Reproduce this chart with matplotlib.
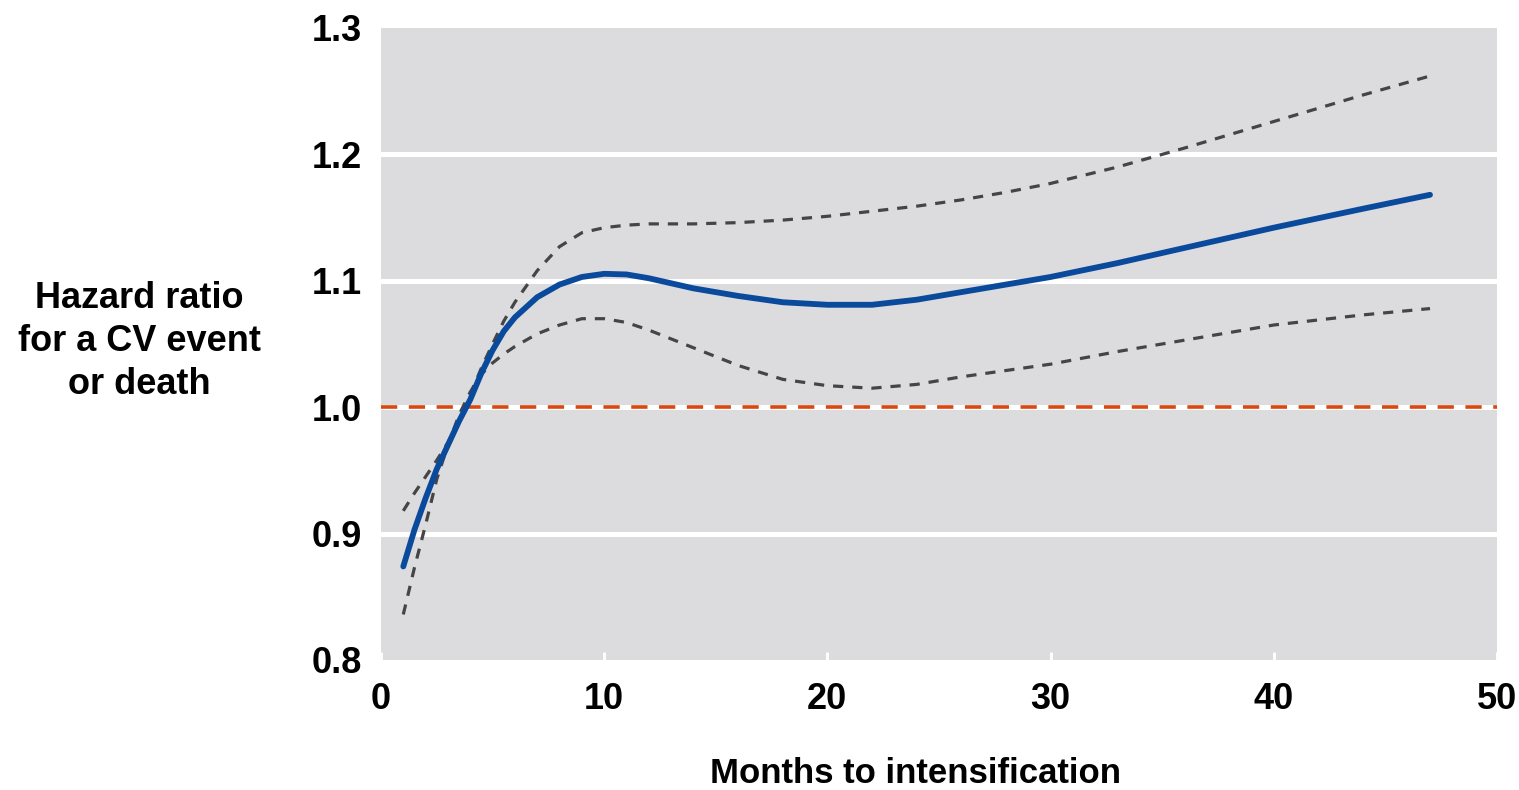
import matplotlib.pyplot as plt

# spline estimate of hazard ratio vs months to intensification
months = [1, 1.5, 2, 2.5, 3, 3.5, 4, 4.5, 5, 5.5, 6, 7, 8, 9, 10, 11, 12, 13, 14,
          16, 18, 20, 22, 24, 26, 28, 30, 33, 36, 40, 44, 47]
hr = [0.874, 0.903, 0.928, 0.951, 0.970, 0.989, 1.006, 1.027, 1.045, 1.060, 1.071,
      1.087, 1.097, 1.103, 1.1055, 1.105, 1.102, 1.098, 1.094, 1.088, 1.083, 1.081,
      1.081, 1.085, 1.091, 1.097, 1.103, 1.114, 1.126, 1.142, 1.157, 1.168]

ci_months = [1, 1.5, 2, 2.5, 3, 3.5, 4, 4.5, 5, 5.5, 6, 7, 8, 9, 10, 11, 12, 13, 14,
             16, 18, 20, 22, 24, 26, 28, 30, 33, 36, 40, 44, 47]
upper = [0.918, 0.932, 0.945, 0.958, 0.972, 0.990, 1.010, 1.031, 1.050, 1.068, 1.083,
         1.108, 1.127, 1.138, 1.142, 1.144, 1.145, 1.145, 1.145, 1.146, 1.148, 1.151,
         1.155, 1.159, 1.164, 1.170, 1.177, 1.190, 1.205, 1.226, 1.247, 1.262]
lower = [0.836, 0.873, 0.907, 0.943, 0.970, 0.994, 1.012, 1.026, 1.035, 1.042, 1.048,
         1.058, 1.065, 1.070, 1.070, 1.067, 1.061, 1.054, 1.047, 1.033, 1.022, 1.017,
         1.015, 1.018, 1.024, 1.029, 1.034, 1.044, 1.053, 1.065, 1.073, 1.078]

x_ticks = [0, 10, 20, 30, 40, 50]
y_ticks = [0.8, 0.9, 1.0, 1.1, 1.2, 1.3]
y_labels = ['0.8', '0.9', '1.0', '1.1', '1.2', '1.3']
reference = 1.0

plt.rcParams['font.family'] = ['Liberation Sans', 'DejaVu Sans']
plt.rcParams['font.weight'] = 'bold'

fig = plt.figure(figsize=(15.19, 7.90), dpi=100)
ax = fig.add_axes([0.2508, 0.1646, 0.7347, 0.8000])
ax.set_facecolor('#dcdcde')

# white horizontal grid lines
for yv in y_ticks[1:-1]:
    ax.axhline(yv, color='white', lw=3.6, zorder=1)

ax.axhline(reference, color='#d9480f', lw=2.6, dashes=(4.5, 3.2), zorder=2)

ax.plot(ci_months, upper, color='#454545', lw=2.3, dashes=(3.2, 2.8), zorder=3)
ax.plot(ci_months, lower, color='#454545', lw=2.3, dashes=(3.2, 2.8), zorder=3)
ax.plot(months, hr, color='#0a4a9c', lw=4.2, solid_capstyle='round',
        solid_joinstyle='round', zorder=4)

ax.set_xlim(0, 50)
ax.set_ylim(0.8, 1.3)
ax.set_xticks(x_ticks)
ax.set_yticks(y_ticks)
ax.set_yticklabels(y_labels)
ax.tick_params(axis='x', direction='in', color='white', length=6, width=2,
               labelsize=26, pad=16)
ax.tick_params(axis='y', length=0, labelsize=26, pad=14)
for s in ax.spines.values():
    s.set_visible(False)

ax.set_xlabel('Months to intensification', fontsize=25, fontweight='bold')
ax.xaxis.set_label_coords(0.479, -0.153)
fig.text(0.092, 0.568, 'Hazard ratio\nfor a CV event\nor death', fontsize=26,
         ha='center', va='center', linespacing=1.3)

fig.savefig('out.png', dpi=100)
